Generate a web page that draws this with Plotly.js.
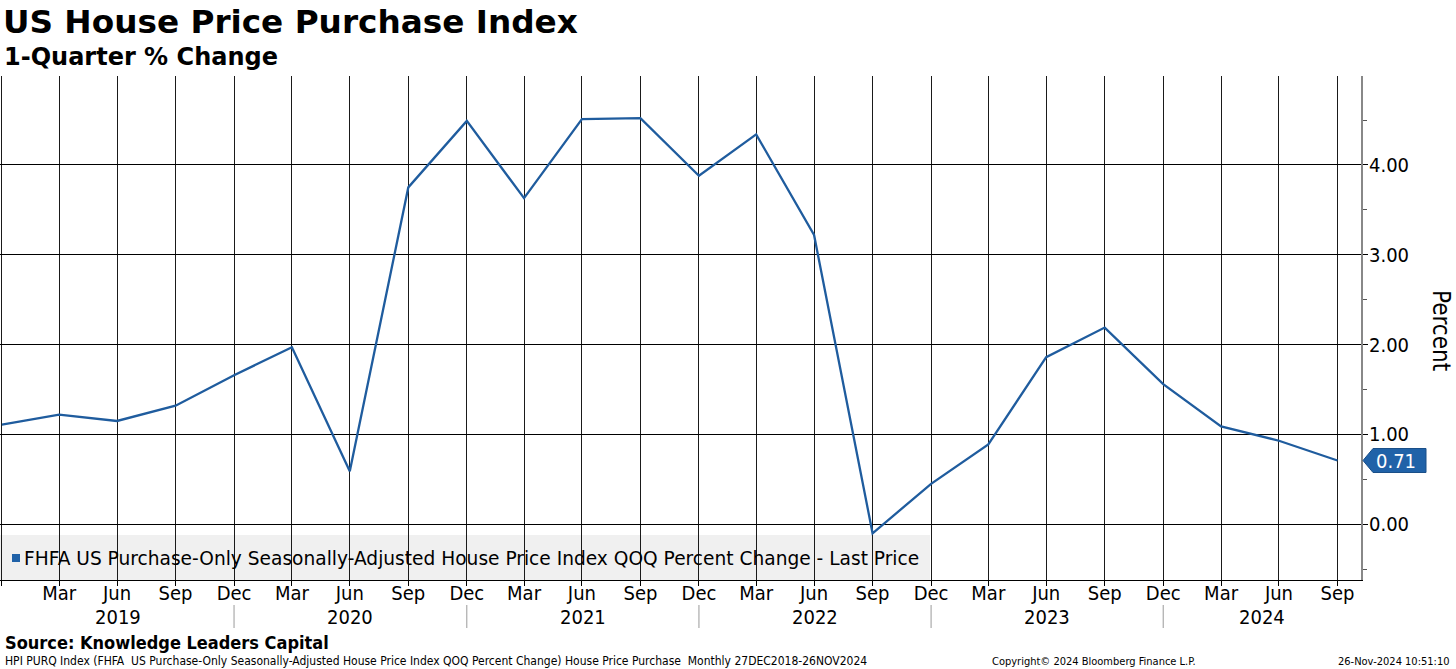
<!DOCTYPE html>
<html>
<head>
<meta charset="utf-8">
<script src="https://cdn.plot.ly/plotly-3.0.1.min.js"></script>
<style>
  html, body { margin: 0; padding: 0; background: #fff; }
  #chart { width: 1456px; height: 669px; }
</style>
</head>
<body>
<div id="chart"></div>
<script>
// ---- Data ----
const quarterDates = [
  '2018-12-31','2019-03-31','2019-06-30','2019-09-30','2019-12-31',
  '2020-03-31','2020-06-30','2020-09-30','2020-12-31',
  '2021-03-31','2021-06-30','2021-09-30','2021-12-31',
  '2022-03-31','2022-06-30','2022-09-30','2022-12-31',
  '2023-03-31','2023-06-30','2023-09-30','2023-12-31',
  '2024-03-31','2024-06-30','2024-09-30'
];
const qoqChange = [
  1.11, 1.22, 1.15, 1.32, 1.66,
  1.97, 0.59, 3.75, 4.49,
  3.63, 4.51, 4.52, 3.88,
  4.34, 3.22, -0.10, 0.45,
  0.89, 1.86, 2.19, 1.56,
  1.09, 0.93, 0.71
];
const monthNames = ['Jan','Feb','Mar','Apr','May','Jun','Jul','Aug','Sep','Oct','Nov','Dec'];
const years = ['2019','2020','2021','2022','2023','2024'];
const yTickVals = [0, 1, 2, 3, 4];

const seriesName = 'FHFA US Purchase-Only Seasonally-Adjusted House Price Index QOQ Percent Change - Last Price';
const titleText = 'US House Price Purchase Index';
const subtitleText = '1-Quarter % Change';
const sourceText = 'Source: Knowledge Leaders Capital';
const footerLeft = 'HPI PURQ Index (FHFA  US Purchase-Only Seasonally-Adjusted House Price Index QOQ Percent Change) House Price Purchase  Monthly 27DEC2018-26NOV2024';
const footerMid = 'Copyright\u00A9 2024 Bloomberg Finance L.P.';
const footerRight = '26-Nov-2024 10:51:10';

// ---- Layout geometry ----
const W = 1456, H = 669;
const M = { l: 0, r: 95, t: 76, b: 89 };
const plotH = H - M.t - M.b;
const plotW = W - M.l - M.r;
const xRange = ['2018-12-28', '2024-11-06'];
const yRange = [-0.62, 4.99];
const FONT = '"DejaVu Sans Condensed", "DejaVu Sans", Tahoma, sans-serif';
const FONT_WIDE = '"DejaVu Sans", Verdana, sans-serif';
const LINE = '#1f5c9e';

function pyToPaper(py) { return (H - M.b - py) / plotH; }
function pxToPaper(px) { return (px - M.l) / plotW; }

const tickText = quarterDates.map((d, i) => i === 0 ? '' : monthNames[parseInt(d.slice(5, 7), 10) - 1]);

// year label centres: middle of the span between December separators (clipped to the range)
const t0 = new Date(xRange[0]).getTime(), t1 = new Date(xRange[1]).getTime();
const yearAnn = years.map(y => {
  const a = Math.max(t0, new Date((parseInt(y) - 1) + '-12-31').getTime());
  const b = Math.min(t1, new Date(y + '-12-31').getTime());
  const mid = new Date((a + b) / 2).toISOString().slice(0, 10);
  return { x: mid, xref: 'x', y: pyToPaper(617), yref: 'paper', yanchor: 'middle', xanchor: 'center',
           text: y, showarrow: false, font: { family: FONT, size: 20, color: '#000' } };
});
const decDates = quarterDates.filter((d, i) => i > 0 && d.slice(5, 7) === '12');
const separators = decDates.map(d => ({
  type: 'line', xref: 'x', yref: 'paper', x0: d, x1: d,
  y0: pyToPaper(605), y1: pyToPaper(628), line: { color: '#9a9a9a', width: 1 }
}));

const lastVal = qoqChange[qoqChange.length - 1];
const dy = 12 / (plotH / (yRange[1] - yRange[0]));
const bx0 = pxToPaper(1363), bx1 = pxToPaper(1373), bx2 = pxToPaper(1426);
const lastShape = {
  type: 'path', xref: 'paper', yref: 'y',
  path: `M ${bx0},${lastVal} L ${bx1},${lastVal + dy} L ${bx2},${lastVal + dy} L ${bx2},${lastVal - dy} L ${bx1},${lastVal - dy} Z`,
  fillcolor: '#2062a8', line: { color: '#1a4f88', width: 1 }
};
const legendBox = {
  type: 'rect', xref: 'paper', yref: 'paper', layer: 'below',
  x0: 0, x1: pxToPaper(930), y0: 0, y1: pyToPaper(535),
  fillcolor: '#f0f0f0', line: { width: 0 }
};
const legendSwatch = {
  type: 'rect', xref: 'paper', yref: 'paper',
  x0: pxToPaper(12), x1: pxToPaper(20), y0: pyToPaper(562), y1: pyToPaper(554),
  fillcolor: '#2062a8', line: { width: 0 }
};

const trace = {
  type: 'scatter', mode: 'lines', x: quarterDates, y: qoqChange, name: seriesName,
  line: { color: LINE, width: 2.3 }, showlegend: false, cliponaxis: true
};

const layout = {
  width: W, height: H, margin: M,
  paper_bgcolor: '#fff', plot_bgcolor: 'rgba(0,0,0,0)',
  font: { family: FONT, color: '#000' },
  title: { text: '<b>' + titleText + '</b>', x: 0.002, xref: 'container', xanchor: 'left',
           y: 1 - 22 / H, yref: 'container', yanchor: 'middle',
           font: { family: FONT_WIDE, size: 32.7, color: '#000' } },
  xaxis: {
    type: 'date', range: xRange, tickmode: 'array', tickvals: quarterDates, ticktext: tickText,
    showgrid: true, gridcolor: '#1a1a1a', gridwidth: 1,
    showline: true, linecolor: '#000', linewidth: 1,
    ticks: 'outside', ticklen: 5, tickcolor: '#000', ticklabelstandoff: -10,
    tickfont: { family: FONT, size: 20, color: '#000' }, zeroline: false, fixedrange: true
  },
  yaxis: {
    side: 'right', range: yRange, tickmode: 'array', tickvals: yTickVals,
    tickformat: '.2f', showgrid: true, gridcolor: '#000', gridwidth: 1,
    showline: true, linecolor: '#888', linewidth: 2,
    ticks: 'outside', ticklen: 5, tickcolor: '#000', ticklabelstandoff: -3,
    minor: { dtick: 0.5, tick0: 0, ticks: 'outside', ticklen: 4, tickcolor: '#555', showgrid: false },
    tickfont: { family: FONT, size: 20, color: '#000' }, zeroline: false, fixedrange: true
  },
  shapes: [legendBox, legendSwatch, lastShape].concat(separators),
  annotations: [
    { xref: 'paper', yref: 'paper', x: 0, xshift: 2, y: pyToPaper(57), xanchor: 'left', yanchor: 'middle',
      text: '<b>' + subtitleText + '</b>', showarrow: false, font: { family: FONT_WIDE, size: 24, color: '#000' } },
    { xref: 'paper', yref: 'paper', x: pxToPaper(22), y: pyToPaper(558), xanchor: 'left', yanchor: 'middle',
      text: seriesName, showarrow: false,
      font: { family: FONT_WIDE, size: 18.6, color: '#000' } },
    { xref: 'paper', yref: 'y', x: pxToPaper(1374), y: lastVal, xanchor: 'left', yanchor: 'middle',
      text: lastVal.toFixed(2), showarrow: false, font: { family: FONT, size: 20, color: '#fff' } },
    { xref: 'paper', yref: 'paper', x: pxToPaper(1441), y: pyToPaper(330), xanchor: 'center', yanchor: 'middle',
      text: 'Percent', textangle: 90, showarrow: false, font: { family: FONT, size: 24, color: '#000' } },
    { xref: 'paper', yref: 'paper', x: 0, xshift: 3, y: pyToPaper(642), xanchor: 'left', yanchor: 'middle',
      text: '<b>' + sourceText + '</b>', showarrow: false, font: { family: FONT, size: 18, color: '#000' } },
    { xref: 'paper', yref: 'paper', x: 0, xshift: 3, y: pyToPaper(661), xanchor: 'left', yanchor: 'middle',
      text: footerLeft, showarrow: false, font: { family: FONT, size: 12, color: '#000' } },
    { xref: 'paper', yref: 'paper', x: pxToPaper(990), y: pyToPaper(661), xanchor: 'left', yanchor: 'middle',
      text: footerMid, showarrow: false, font: { family: FONT, size: 11, color: '#000' } },
    { xref: 'paper', yref: 'paper', x: pxToPaper(1452), y: pyToPaper(661), xanchor: 'right', yanchor: 'middle',
      text: footerRight, showarrow: false, font: { family: FONT, size: 11, color: '#000' } }
  ].concat(yearAnn)
};

Plotly.newPlot('chart', [trace], layout, { staticPlot: true, displayModeBar: false });
</script>
</body>
</html>
